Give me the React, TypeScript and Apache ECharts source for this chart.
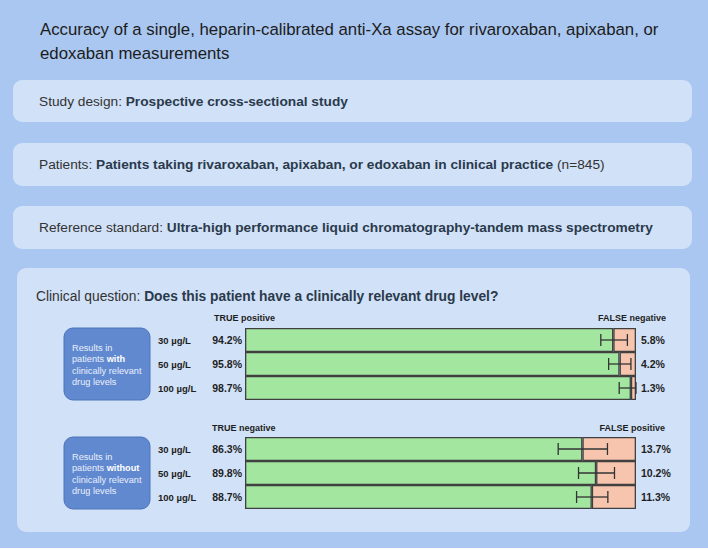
import React, { useEffect, useRef } from 'react';
import * as echarts from 'echarts';

const concentrations = ['30 µg/L', '50 µg/L', '100 µg/L'];
const truePositive = [94.2, 95.8, 98.7];
const falseNegative = [5.8, 4.2, 1.3];
const tpCiLow = [91.0, 93.0, 95.7];
const tpCiHigh = [97.8, 98.7, 100];
const trueNegative = [86.3, 89.8, 88.7];
const falsePositive = [13.7, 10.2, 11.3];
const tnCiLow = [80.1, 85.3, 84.8];
const tnCiHigh = [92.7, 94.5, 92.8];

const FONT = '"Liberation Sans", Arial, Helvetica, sans-serif';
const GREEN = '#a2e6a0';
const SALMON = '#f7c5ae';
const OUTER = '#a9c7f0';
const INNER = '#d1e1f7';
const BOXBLUE = '#6189d0';

const errRender = (params: any, api: any) => {
  const y = api.value(2);
  const lo = api.coord([api.value(0), y]);
  const hi = api.coord([api.value(1), y]);
  const h = 12;
  const style = { stroke: '#333', lineWidth: 1.3 };
  return {
    type: 'group',
    children: [
      { type: 'line', shape: { x1: lo[0], y1: lo[1], x2: hi[0], y2: hi[1] }, style },
      { type: 'line', shape: { x1: lo[0], y1: lo[1] - h / 2, x2: lo[0], y2: lo[1] + h / 2 }, style },
      { type: 'line', shape: { x1: hi[0], y1: hi[1] - h / 2, x2: hi[0], y2: hi[1] + h / 2 }, style },
    ],
  };
};

const richPair = (size: number) => ({
  a: { fontFamily: FONT, fontSize: size, fill: '#333333' },
  b: { fontFamily: FONT, fontSize: size, fontWeight: 'bold', fill: '#2a3a4c' },
});

const boxText = (x: number, y: number, label: string, bold: string, tail = '') => ({
  type: 'text',
  x,
  y,
  style: {
    text: `{a|${label}}{b|${bold}}` + (tail ? `{a|${tail}}` : ''),
    textVerticalAlign: 'middle',
    rich: richPair(13.7),
  },
});

const sideBox = (top: number, word: string) => [
  {
    type: 'rect',
    shape: { x: 64, y: top, width: 86, height: 72, r: 9 },
    style: { fill: BOXBLUE, stroke: '#4d74b8', lineWidth: 1 },
  },
  {
    type: 'text',
    x: 72,
    y: top + 14,
    style: {
      text: `{n|Results in}\n{n|patients }{b|${word}}\n{n|clinically relevant}\n{n|drug levels}`,
      rich: {
        n: { fontFamily: FONT, fontSize: 9.2, fill: '#e9f0fb', lineHeight: 11.4 },
        b: { fontFamily: FONT, fontSize: 9.2, fontWeight: 'bold', fill: '#ffffff', lineHeight: 11.4 },
      },
    },
  },
];

const header = (x: number, y: number, text: string, align: string) => ({
  type: 'text',
  x,
  y,
  style: {
    text,
    textAlign: align,
    textVerticalAlign: 'middle',
    fontFamily: FONT,
    fontSize: 9,
    fontWeight: 'bold',
    fill: '#1e1e1e',
  },
});

export default function App() {
  const ref = useRef<HTMLDivElement>(null);
  useEffect(() => {
    const chart = echarts.init(ref.current!, null, { renderer: 'svg' });
    const pctStyle = { fontFamily: FONT, fontSize: 10.5, fontWeight: 'bold', color: '#1e1e1e' };
    const grids = [
      { left: 245, top: 328, width: 391, height: 72 },
      { left: 245, top: 437, width: 391, height: 72 },
    ];
    const xAxes = grids.map((_, i) => ({ type: 'value', gridIndex: i, min: 0, max: 100, show: false }));
    const yAxes = grids.map((_, i) => ({
      type: 'category',
      gridIndex: i,
      data: concentrations,
      inverse: true,
      axisLine: { show: false },
      axisTick: { show: false },
      splitLine: { show: false },
      axisLabel: { fontFamily: FONT, fontSize: 9.5, fontWeight: 'bold', color: '#1e1e1e', align: 'left', margin: 87 },
    }));
    const barSeries = (idx: number, vals: number[], color: string, pos: string) => ({
      type: 'bar',
      xAxisIndex: idx,
      yAxisIndex: idx,
      stack: 'g' + idx,
      data: vals,
      barWidth: '100%',
      barCategoryGap: 0,
      itemStyle: { color, borderColor: '#404040', borderWidth: 1.3 },
      label: { show: true, position: pos, distance: pos === 'left' ? 3 : 5, formatter: '{c}%', ...pctStyle },
      z: 2,
    });
    const errSeries = (idx: number, lo: number[], hi: number[]) => ({
      type: 'custom',
      xAxisIndex: idx,
      yAxisIndex: idx,
      renderItem: errRender,
      encode: { x: [0, 1], y: 2 },
      data: lo.map((l, i) => [l, hi[i], i]),
      z: 5,
    });
    chart.setOption({
      animation: false,
      backgroundColor: OUTER,
      grid: grids,
      xAxis: xAxes,
      yAxis: yAxes,
      graphic: [
        {
          type: 'text',
          x: 40,
          y: 17,
          style: {
            text: 'Accuracy of a single, heparin-calibrated anti-Xa assay for rivaroxaban, apixaban, or\nedoxaban measurements',
            fontFamily: FONT,
            fontSize: 16.8,
            lineHeight: 24,
            fill: '#1c1c1c',
          },
        },
        { type: 'rect', shape: { x: 13, y: 80, width: 679, height: 42, r: 9 }, style: { fill: INNER } },
        { type: 'rect', shape: { x: 13, y: 143, width: 679, height: 43, r: 9 }, style: { fill: INNER } },
        { type: 'rect', shape: { x: 13, y: 206, width: 679, height: 43, r: 9 }, style: { fill: INNER } },
        { type: 'rect', shape: { x: 17, y: 268, width: 673, height: 264, r: 9 }, style: { fill: INNER } },
        boxText(39, 101, 'Study design: ', 'Prospective cross-sectional study'),
        boxText(39, 164, 'Patients: ', 'Patients taking rivaroxaban, apixaban, or edoxaban in clinical practice', ' (n=845)'),
        boxText(39, 227, 'Reference standard: ', 'Ultra-high performance liquid chromatography-tandem mass spectrometry'),
        {
          type: 'text',
          x: 36,
          y: 296,
          style: {
            text: '{a|Clinical question: }{b|Does this patient have a clinically relevant drug level?}',
            textVerticalAlign: 'middle',
            rich: richPair(13.8),
          },
        },
        header(214, 318, 'TRUE positive', 'left'),
        header(666, 318, 'FALSE negative', 'right'),
        header(212, 428, 'TRUE negative', 'left'),
        header(665, 428, 'FALSE positive', 'right'),
        ...sideBox(328, 'with'),
        ...sideBox(437, 'without'),
        { type: 'rect', shape: { x: 0, y: 548, width: 708, height: 2 }, style: { fill: '#ffffff' } },
      ],
      series: [
        barSeries(0, truePositive, GREEN, 'left'),
        barSeries(0, falseNegative, SALMON, 'right'),
        errSeries(0, tpCiLow, tpCiHigh),
        barSeries(1, trueNegative, GREEN, 'left'),
        barSeries(1, falsePositive, SALMON, 'right'),
        errSeries(1, tnCiLow, tnCiHigh),
      ],
    });
    return () => chart.dispose();
  }, []);
  return <div ref={ref} style={{ position: 'absolute', left: 0, top: 0, width: 708, height: 550 }} />;
}
